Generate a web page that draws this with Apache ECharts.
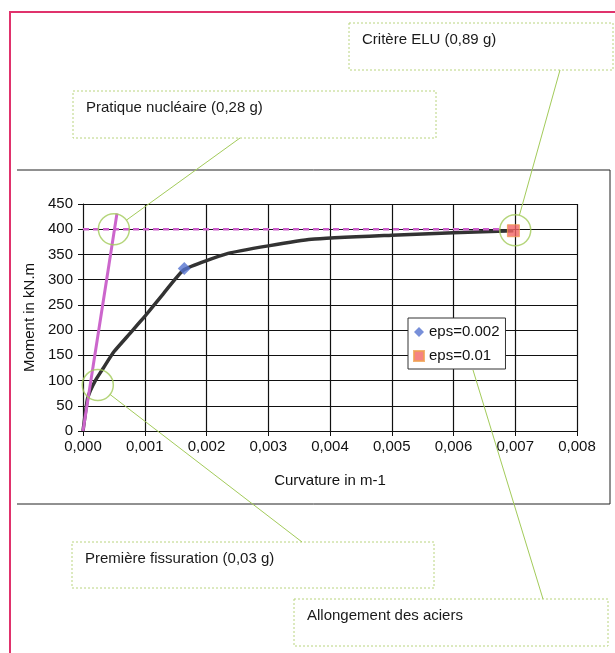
<!DOCTYPE html>
<html>
<head>
<meta charset="utf-8">
<script src="https://cdn.jsdelivr.net/npm/echarts@6/dist/echarts.min.js"></script>
<style>
html,body{margin:0;padding:0;background:#fff;}
#c{width:615px;height:653px;}
</style>
</head>
<body>
<div id="c"></div>
<script>
// Moment-curvature curve (curvature in m-1, moment in kN.m)
const curvature = [0, 0.00007, 0.00012, 0.0002, 0.00033, 0.0005, 0.00075, 0.001, 0.0013, 0.00164, 0.00235, 0.003, 0.0037, 0.005, 0.006, 0.00697];
const moment    = [0, 62, 80, 100, 125, 157, 192, 227, 272, 320, 352, 367, 380, 388, 393, 397];
// Initial stiffness line (magenta)
const stiffX = [0, 0.00055];
const stiffY = [0, 431];
// Horizontal dashed line at ultimate moment
const ultX = [0, 0.0068];
const ultY = [400, 400];
// Marked points
const eps002 = [0.00164, 322];
const eps001 = [0.00697, 397];
// Annotation circles (centres, data coordinates)
const circleCenters = [[0.0005, 400], [0.00024, 91], [0.007, 398]];
const xTicks = { min: 0, max: 0.008, interval: 0.001 };
const yTicks = { min: 0, max: 450, interval: 50 };
const labels = ['Critère ELU (0,89 g)', 'Pratique nucléaire (0,28 g)', 'Première fissuration (0,03 g)', 'Allongement des aciers'];

const FONT = '"Liberation Sans", Arial, sans-serif';
const zip = (a, b) => a.map((v, i) => [v, b[i]]);

const chart = echarts.init(document.getElementById('c'), null, { renderer: 'canvas' });

const option = {
  animation: false,
  backgroundColor: '#fff',
  textStyle: { fontFamily: FONT },
  grid: { left: 83, right: 38, top: 204, bottom: 222, containLabel: false },
  xAxis: {
    type: 'value', min: xTicks.min, max: xTicks.max, interval: xTicks.interval,
    name: 'Curvature in m-1', nameLocation: 'middle', nameGap: 42,
    nameTextStyle: { fontSize: 15, color: '#111', fontFamily: FONT },
    axisLine: { show: true, lineStyle: { color: '#111', width: 1 } },
    axisTick: { show: true, length: 5, lineStyle: { color: '#111' } },
    axisLabel: { fontSize: 15, color: '#111', margin: 8, fontFamily: FONT,
      formatter: v => v.toFixed(3).replace('.', ',') },
    splitLine: { show: true, lineStyle: { color: '#111', width: 1.2 } }
  },
  yAxis: {
    type: 'value', min: yTicks.min, max: yTicks.max, interval: yTicks.interval,
    name: 'Moment in kN.m', nameLocation: 'middle', nameGap: 45,
    nameTextStyle: { fontSize: 15, color: '#111', fontFamily: FONT },
    axisLine: { show: true, lineStyle: { color: '#111', width: 1 } },
    axisTick: { show: true, length: 5, lineStyle: { color: '#111' } },
    axisLabel: { fontSize: 15, color: '#111', margin: 10, fontFamily: FONT },
    splitLine: { show: true, lineStyle: { color: '#111', width: 1.2 } }
  },
  legend: {
    orient: 'vertical', left: 408, top: 318,
    padding: [6, 6, 5, 5], itemGap: 8, itemWidth: 10, itemHeight: 10,
    backgroundColor: '#fff', borderColor: '#333', borderWidth: 1,
    textStyle: { fontSize: 15, color: '#111', lineHeight: 16, fontFamily: FONT },
    data: [
      { name: 'eps=0.002', icon: 'diamond' },
      { name: 'eps=0.01', icon: 'rect' }
    ]
  },
  series: [
    {
      name: 'curve', type: 'line', data: zip(curvature, moment), showSymbol: false,
      smooth: 0.15,
      lineStyle: { color: '#333', width: 3.5 }, z: 2, silent: true
    },
    {
      name: 'stiffness', type: 'line', data: zip(stiffX, stiffY), showSymbol: false,
      lineStyle: { color: '#cc66cc', width: 3 }, z: 3, silent: true
    },
    {
      name: 'ultimate', type: 'line', data: zip(ultX, ultY), showSymbol: false,
      lineStyle: { color: '#cc5fcc', width: 2.5, type: [6, 4] }, z: 3, silent: true
    },
    {
      name: 'eps=0.002', type: 'scatter', data: [eps002], symbol: 'diamond', symbolSize: 13,
      itemStyle: { color: '#5573cf' }, z: 4
    },
    {
      name: 'eps=0.01', type: 'scatter', data: [eps001], symbol: 'rect', symbolSize: 12,
      itemStyle: { color: '#f26464', borderColor: '#f0a050', borderWidth: 1 }, z: 4
    },
    {
      name: 'circles', type: 'scatter', data: circleCenters, symbol: 'circle', symbolSize: 31,
      itemStyle: { color: 'rgba(0,0,0,0)', borderColor: '#a3cb5a', borderWidth: 1.5 }, z: 5, silent: true
    }
  ]
};
chart.setOption(option);

// Annotation boxes (layout) and leader lines to the circles
const boxes = [
  { x: 349, y: 23, w: 264, h: 47, text: labels[0], anchor: [560, 70], circle: 2 },
  { x: 73, y: 91, w: 363, h: 47, text: labels[1], anchor: [240, 138], circle: 0 },
  { x: 72, y: 542, w: 362, h: 46, text: labels[2], anchor: [302, 542], circle: 1 },
  { x: 294, y: 599, w: 314, h: 47, text: labels[3], anchor: null, circle: null }
];
const R = 15.5;
const graphics = [];
// outer red frame
graphics.push({ type: 'polyline', shape: { points: [[10, 653], [10, 12], [615, 12]] },
  style: { stroke: '#e0326c', lineWidth: 2, fill: null }, z: 10 });
// chart frame
graphics.push({ type: 'polyline', shape: { points: [[17, 170], [610, 170], [610, 504], [17, 504]] },
  style: { stroke: '#222', lineWidth: 1, fill: null }, z: 10 });
boxes.forEach(b => {
  graphics.push({ type: 'rect', shape: { x: b.x, y: b.y, width: b.w, height: b.h },
    style: { fill: '#fff', stroke: '#b9d47f', lineWidth: 1, lineDash: [2, 2] }, z: 10 });
  graphics.push({ type: 'text', x: b.x + 13, y: b.y + 17,
    style: { text: b.text, fontSize: 15, fontFamily: FONT, fill: '#1a1a1a', verticalAlign: 'middle', align: 'left' }, z: 11 });
  if (b.circle !== null) {
    const c = chart.convertToPixel({ xAxisIndex: 0, yAxisIndex: 0 }, circleCenters[b.circle]);
    const dx = b.anchor[0] - c[0], dy = b.anchor[1] - c[1];
    const d = Math.sqrt(dx * dx + dy * dy);
    const p = [c[0] + dx / d * R, c[1] + dy / d * R];
    graphics.push({ type: 'line', shape: { x1: b.anchor[0], y1: b.anchor[1], x2: p[0], y2: p[1] },
      style: { stroke: '#a3cb5a', lineWidth: 1 }, z: 12 });
  }
});
// leader from legend to "Allongement des aciers"
graphics.push({ type: 'line', shape: { x1: 473, y1: 370, x2: 543, y2: 599 },
  style: { stroke: '#a3cb5a', lineWidth: 1 }, z: 12 });
chart.setOption({ graphic: graphics });
</script>
</body>
</html>
